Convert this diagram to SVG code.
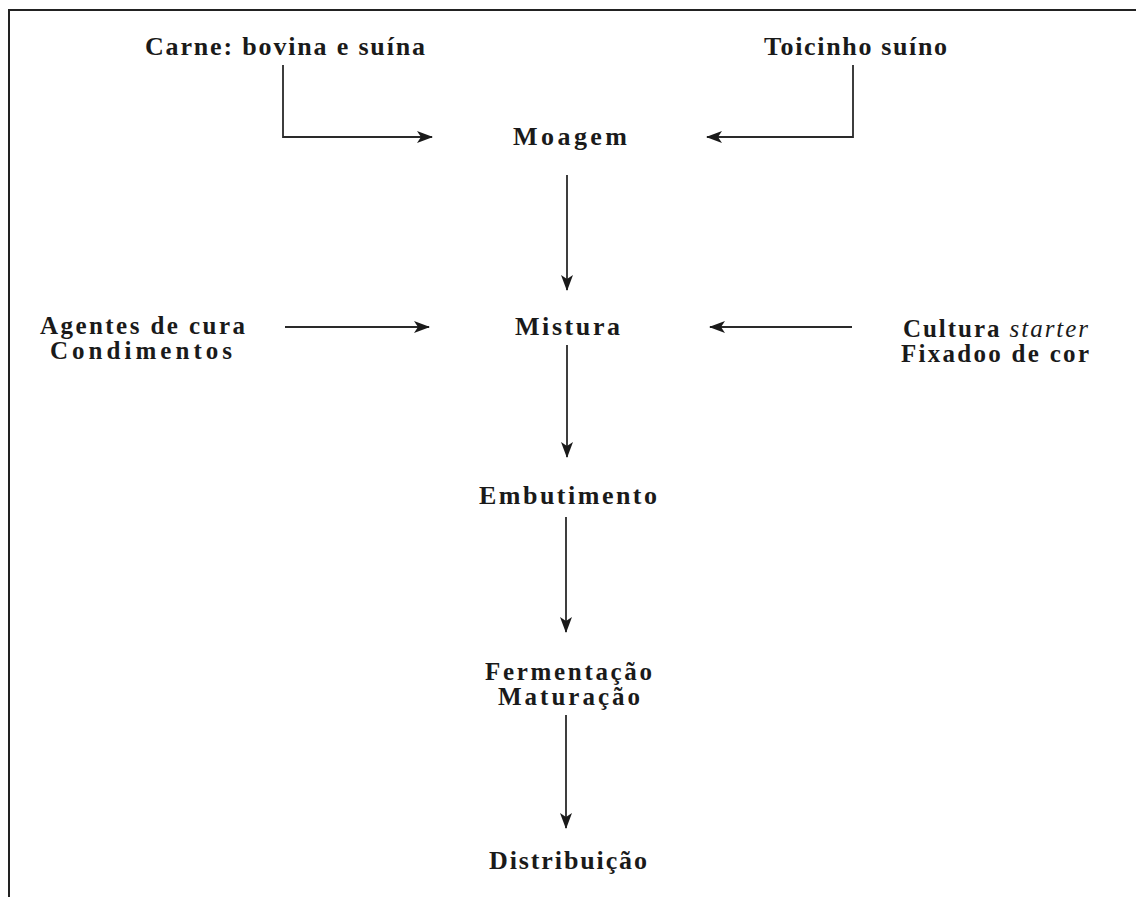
<svg xmlns="http://www.w3.org/2000/svg" width="1136" height="897" viewBox="0 0 1136 897">
<style>
.t{font-family:"Liberation Serif","Times New Roman",serif;font-weight:bold;font-size:26px;fill:#1a1a1a}
.s{font-size:25px}
.c{fill:none;stroke:#2a2a2a;stroke-width:1.8}
.b{fill:none;stroke:#222;stroke-width:2}
</style>
<defs>
<marker id="ah" viewBox="0 0 16 12" refX="15" refY="6" markerWidth="16" markerHeight="12" markerUnits="userSpaceOnUse" orient="auto">
<path d="M0,0 L16,6 L0,12 L4,6 z" fill="#1a1a1a"/>
</marker>
</defs>
<rect width="1136" height="897" fill="#fff"/>
<path class="b" d="M9,897 L9,10 L1136,10"/>
<g id="connectors">
<path class="c" d="M283,65 L283,137 L432,137" marker-end="url(#ah)"/>
<path class="c" d="M853,65 L853,137 L707,137" marker-end="url(#ah)"/>
<path class="c" d="M567,175 L567,290" marker-end="url(#ah)"/>
<path class="c" d="M285,327 L429,327" marker-end="url(#ah)"/>
<path class="c" d="M852,327 L710,327" marker-end="url(#ah)"/>
<path class="c" d="M567,345 L567,457" marker-end="url(#ah)"/>
<path class="c" d="M566,517 L566,632" marker-end="url(#ah)"/>
<path class="c" d="M566,715 L566,828" marker-end="url(#ah)"/>
</g>
<g id="carne"><text class="t" x="145" y="55" textLength="280" lengthAdjust="spacing">Carne: bovina e suína</text></g>
<g id="toicinho"><text class="t" x="764" y="55" textLength="183" lengthAdjust="spacing">Toicinho suíno</text></g>
<g id="moagem"><text class="t" x="513" y="145" textLength="114" lengthAdjust="spacing">Moagem</text></g>
<g id="agentes">
<text class="t s" x="40" y="334" textLength="205" lengthAdjust="spacing">Agentes de cura</text>
<text class="t s" x="50" y="359" textLength="182" lengthAdjust="spacing">Condimentos</text>
</g>
<g id="mistura"><text class="t" x="515" y="335" textLength="105" lengthAdjust="spacing">Mistura</text></g>
<g id="cultura">
<text class="t s" x="903" y="337" textLength="185" lengthAdjust="spacing">Cultura <tspan font-style="italic" font-weight="normal">starter</tspan></text>
<text class="t s" x="901" y="362" textLength="188" lengthAdjust="spacing">Fixadoo de cor</text>
</g>
<g id="embutimento"><text class="t" x="479" y="504" textLength="178" lengthAdjust="spacing">Embutimento</text></g>
<g id="fermentacao">
<text class="t s" x="485" y="680" textLength="167" lengthAdjust="spacing">Fermentação</text>
<text class="t s" x="498" y="705" textLength="142" lengthAdjust="spacing">Maturação</text>
</g>
<g id="distribuicao"><text class="t" x="489" y="869" textLength="158" lengthAdjust="spacing">Distribuição</text></g>
</svg>
